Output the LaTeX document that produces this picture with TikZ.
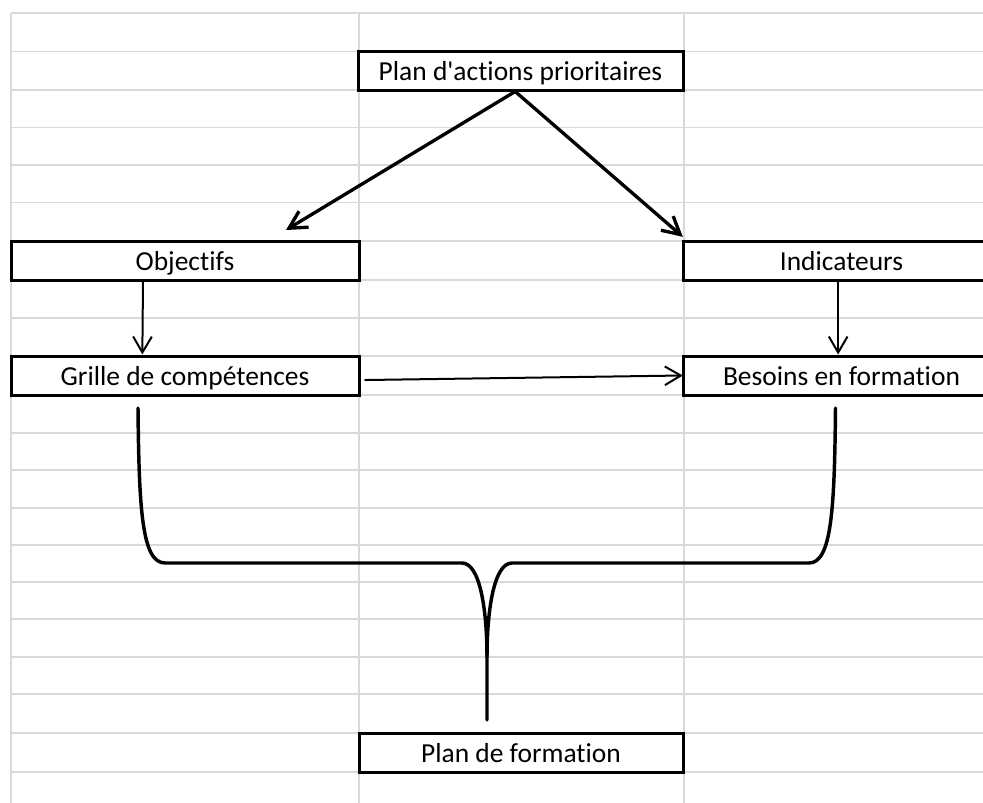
\documentclass[tikz,border=0pt]{standalone}
\usepackage{fontspec}
\setmainfont{Carlito}[Ligatures=NoCommon]
\usetikzlibrary{arrows.meta}

\begin{document}
\begin{tikzpicture}[x=0.75pt, y=-0.75pt,
	case/.style={shape=rectangle, draw=black, line width=2.25pt, inner sep=0pt,
		minimum height=29.25pt, text height=14.25pt, text depth=0pt, font=\fontsize{20.6}{24}\selectfont},
	grosse/.style={line width=2.5pt, -{Straight Barb[length=13pt,width=14pt,line width=2.5pt]}},
	fine/.style={line width=1.5pt, -{Straight Barb[length=12pt,width=14pt,line width=1.5pt]}},
	accolade/.style={line width=2.6pt, line cap=round}]

	\useasboundingbox (0,0) rectangle (983,803);
	\clip (0,0) rectangle (983,803);

	% grille du tableur
	\foreach \y in {13,51.5,90,127.5,165,202.5,241,280,318,356,395,433,470,508,545,582,619,657,694,733,772}
		\draw[black!15, line width=1.1pt] (11,\y) -- (983,\y);
	\foreach \x in {11,359,684}
		\draw[black!15, line width=1.1pt] (\x,13) -- (\x,803);

	\node[case, minimum width=243.75pt, fill=white] (pap) at (520.5,70.5) {Plan d\textquotesingle actions prioritaires};
	\node[case, minimum width=261pt, fill=white] (obj) at (185,260.5) {Objectifs};
	\node[case, minimum width=237.75pt, fill=white] (ind) at (841.5,260.5) {Indicateurs};
	\node[case, minimum width=261pt, fill=white] (gri) at (185,375.5) {Grille de compétences};
	\node[case, minimum width=237.75pt, fill=white] (bes) at (841.5,375.5) {Besoins en formation};
	\node[case, minimum width=243pt, fill=white] (pdf) at (521,752.5) {Plan de formation};

	\coordinate (depart) at ([xshift=-4pt]pap.south);
	\coordinate (versobj) at (286,230);

	\path[grosse] (depart) edge (versobj);
	\path[grosse] (depart) edge ([xshift=1pt,yshift=2pt]ind.north west);
	\path[fine] ([xshift=-31.5pt]obj.south) edge ([xshift=-32pt]gri.north);
	\path[fine] ([xshift=-2.5pt]ind.south) edge ([xshift=-2.5pt]bes.north);
	\path[fine] ([xshift=3pt,yshift=-3.4pt]gri.east) edge ([xshift=1pt]bes.west);

	% accolade vers le plan de formation
	\coordinate (hg) at (138,408);
	\coordinate (hd) at (835.5,408);
	\coordinate (pointe) at (487,720);
	\draw[accolade] (hg) .. controls (139,510) and (142,563) .. (165,563) -- (462,563)
		.. controls (480,563) and (487,610) .. (487,657) -- (pointe);
	\draw[accolade] (hd) .. controls (834.5,510) and (831.5,563) .. (809,563) -- (512,563)
		.. controls (494,563) and (487,610) .. (487,657);
\end{tikzpicture}
\end{document}
